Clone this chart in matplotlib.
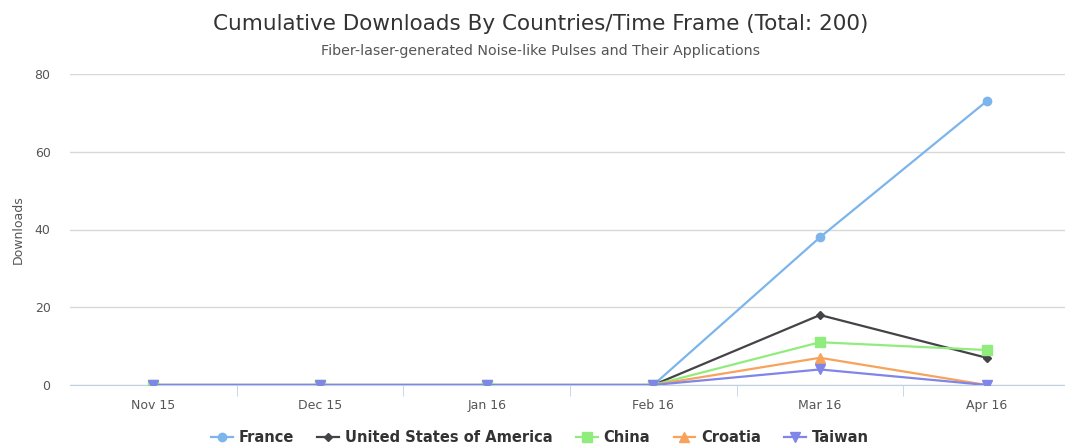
import matplotlib.pyplot as plt
import numpy as np

months = ["Nov 15", "Dec 15", "Jan 16", "Feb 16", "Mar 16", "Apr 16"]
france = [0, 0, 0, 0, 38, 73]
usa = [0, 0, 0, 0, 18, 7]
china = [0, 0, 0, 0, 11, 9]
croatia = [0, 0, 0, 0, 7, 0]
taiwan = [0, 0, 0, 0, 4, 0]

series = [
    ("France", france, "#7cb5ec", "o", 6),
    ("United States of America", usa, "#434348", "D", 4.5),
    ("China", china, "#90ed7d", "s", 6.5),
    ("Croatia", croatia, "#f7a35c", "^", 6.5),
    ("Taiwan", taiwan, "#8085e9", "v", 6.5),
]

fig = plt.figure(figsize=(10.65, 4.46), dpi=100)
ax = fig.add_axes([70 / 1065, (446 - 385) / 446, (1065 - 70) / 1065, (385 - 74) / 446])

x = np.arange(len(months))
handles = []
for name, vals, color, marker, ms in series:
    h = ax.plot(x, vals, color=color, marker=marker, markersize=ms, linewidth=1.6,
                label=name, zorder=3)
    handles.append(h[0])

ax.set_xlim(-0.5, 5.47)
ax.set_ylim(0, 80)
ax.set_yticks([0, 20, 40, 60, 80])
ax.set_xticks(x)
ax.set_xticklabels(months)
ax.set_xticks(np.arange(0.5, 5, 1), minor=True)
ax.tick_params(axis="x", which="major", length=0, pad=10, labelsize=9, labelcolor="#555555")
ax.tick_params(axis="x", which="minor", length=8, color="#c0d0e0")
ax.tick_params(axis="y", length=0, pad=14, labelsize=9, labelcolor="#555555")
ax.grid(axis="y", color="#d8d8d8", linewidth=1)
for s in ["top", "right", "left"]:
    ax.spines[s].set_visible(False)
ax.spines["bottom"].set_color("#c0d0e0")
ax.set_axisbelow(True)
ax.set_ylabel("Downloads", fontsize=9, color="#555555", labelpad=7)

fig.text(0.508, 1 - 24 / 446, "Cumulative Downloads By Countries/Time Frame (Total: 200)",
         ha="center", va="center", fontsize=15.5, color="#333333")
fig.text(0.508, 1 - 51 / 446, "Fiber-laser-generated Noise-like Pulses and Their Applications",
         ha="center", va="center", fontsize=10.3, color="#555555")

fig.legend(handles=handles, loc="center", bbox_to_anchor=(0.507, 1 - 438 / 446), ncol=5,
           frameon=False, prop={"weight": "bold", "size": 10.5}, handlelength=1.5,
           columnspacing=1.6, handletextpad=0.4, labelcolor="#333333")

fig.savefig("out.png", dpi=100)
